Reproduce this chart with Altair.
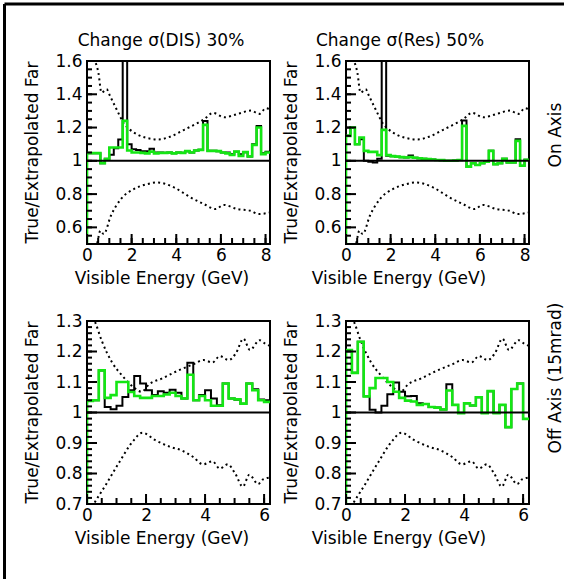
import altair as alt
import numpy as np
import pandas as pd

FONT = "DejaVu Sans"
GREEN = "#14e614"
W = H = 183
BIN = 0.2

# ---- top row: 0-8.2 GeV, ratio 0.5-1.6 ----
TOP_XMAX = 8.2
TOP_YDOM = [0.5, 1.6]
DIS_BLACK = [1.046, 1.046, 1.046, 0.986, 1.012, 1.036, 1.076, 1.128, 2.0, 1.10,
             1.07, 1.065, 1.058, 1.058, 1.072, 1.05, 1.05, 1.048, 1.05, 1.045,
             1.05, 1.048, 1.058, 1.05, 1.062, 1.066, 1.24, 1.06, 1.06, 1.058,
             1.05, 1.05, 1.04, 1.055, 1.04, 1.052, 1.026, 1.10, 1.21, 1.045, 1.055]
DIS_GREEN = [1.046, 1.046, 1.046, 0.986, 1.01, 1.08, 1.08, 1.08, 1.24, 1.062,
             1.05, 1.05, 1.048, 1.045, 1.055, 1.045, 1.048, 1.048, 1.05, 1.045,
             1.05, 1.048, 1.058, 1.05, 1.062, 1.066, 1.216, 1.06, 1.06, 1.058,
             1.05, 1.045, 1.035, 1.055, 1.03, 1.052, 1.026, 1.096, 1.20, 1.04, 1.05]
RES_BLACK = [1.15, 1.2, 1.1, 1.13, 1.0, 0.995, 0.99, 1.012, 2.0, 1.03,
             1.028, 1.025, 1.022, 1.02, 1.032, 1.018, 1.015, 1.012, 1.01, 1.008,
             1.005, 1.004, 1.0, 1.0, 1.002, 1.005, 1.242, 0.965, 0.985, 0.975,
             0.985, 0.995, 1.06, 0.98, 0.985, 1.012, 0.99, 0.99, 1.13, 0.97, 1.006]
RES_GREEN = [1.15, 1.2, 1.1, 1.14, 1.06, 1.054, 1.054, 1.034, 1.186, 1.034,
             1.028, 1.025, 1.022, 1.02, 1.022, 1.018, 1.015, 1.012, 1.01, 1.008,
             1.005, 1.004, 1.0, 1.0, 1.002, 1.005, 1.21, 0.965, 0.985, 0.975,
             0.985, 0.995, 1.06, 0.98, 0.985, 1.012, 0.99, 0.99, 1.12, 0.97, 1.006]
TOP_UP_E = [0.0, 0.2, 0.36, 0.51, 0.65, 0.88, 1.03, 1.25, 1.47, 1.62, 1.85, 2.29,
            2.89, 3.18, 3.78, 4.37, 4.97, 5.27, 5.64, 6.16, 6.76, 7.35, 7.72, 8.02, 8.2]
TOP_UP_R = [1.70, 1.64, 1.60, 1.53, 1.41, 1.43, 1.39, 1.33, 1.27, 1.23, 1.196, 1.156,
            1.132, 1.128, 1.148, 1.188, 1.228, 1.252, 1.288, 1.262, 1.282, 1.302, 1.282, 1.316, 1.308]
TOP_LO_E = [0.0, 0.45, 0.6, 0.75, 1.07, 1.52, 2.1, 2.7, 3.15, 3.9, 4.64, 5.24,
            5.76, 6.13, 6.73, 7.32, 7.69, 8.2]
TOP_LO_R = [0.40, 0.50, 0.58, 0.56, 0.67, 0.77, 0.83, 0.86, 0.87, 0.84, 0.78, 0.74,
            0.71, 0.735, 0.71, 0.70, 0.68, 0.69]

# ---- bottom row: 0-6.2 GeV, ratio 0.7-1.3 ----
BOT_XMAX = 6.2
BOT_YDOM = [0.7, 1.3]
OFF_DIS_BLACK = [1.038, 1.040, 1.138, 1.018, 1.011, 1.022, 1.051, 1.073, 1.120, 1.095,
                 1.073, 1.057, 1.070, 1.065, 1.075, 1.065, 1.046, 1.163, 1.040, 1.057,
                 1.073, 1.046, 1.024, 1.095, 1.046, 1.042, 1.029, 1.095, 1.076, 1.043, 1.040]
OFF_DIS_GREEN = [1.038, 1.040, 1.138, 1.048, 1.057, 1.100, 1.100, 1.067, 1.054, 1.048,
                 1.048, 1.054, 1.054, 1.059, 1.065, 1.054, 1.046, 1.124, 1.040, 1.054,
                 1.040, 1.022, 1.022, 1.095, 1.046, 1.043, 1.029, 1.095, 1.073, 1.040, 1.035]
OFF_RES_BLACK = [1.205, 1.13, 1.232, 1.053, 1.009, 1.0, 1.022, 1.06, 1.098, 1.068,
                 1.053, 1.054, 1.03, 1.028, 1.018, 1.016, 1.01, 1.093, 1.025, 0.998,
                 1.03, 1.023, 1.05, 0.998, 1.07, 0.998, 1.025, 0.952, 1.077, 1.095, 0.979]
OFF_RES_GREEN = [1.205, 1.13, 1.232, 1.053, 1.08, 1.113, 1.113, 1.10, 1.068, 1.048,
                 1.039, 1.036, 1.025, 1.028, 1.018, 1.016, 1.01, 1.072, 1.025, 0.998,
                 1.03, 1.023, 1.05, 0.998, 1.07, 0.998, 1.025, 0.952, 1.077, 1.095, 0.979]
BOT_UP_E = [0.0, 0.28, 0.5, 0.85, 1.2, 1.55, 1.85, 2.1, 2.55, 3.1, 3.6, 3.95, 4.25,
            4.5, 4.8, 5.05, 5.3, 5.52, 5.85, 6.05, 6.2]
BOT_UP_R = [1.34, 1.295, 1.235, 1.164, 1.12, 1.085, 1.068, 1.092, 1.112, 1.138, 1.158,
            1.172, 1.164, 1.185, 1.172, 1.195, 1.242, 1.205, 1.237, 1.225, 1.218]
BOT_LO_E = [0.0, 0.28, 0.65, 1.1, 1.55, 1.88, 2.3, 2.8, 3.2, 3.6, 3.93, 4.25, 4.5,
            4.77, 5.02, 5.28, 5.5, 5.8, 5.95, 6.2]
BOT_LO_R = [0.66, 0.708, 0.765, 0.838, 0.905, 0.934, 0.91, 0.888, 0.876, 0.854, 0.83,
            0.84, 0.816, 0.83, 0.80, 0.757, 0.796, 0.765, 0.78, 0.787]

REF = 1.0
Y_TITLE = "True/Extrapolated Far"
X_TITLE = "Visible Energy (GeV)"
TOP_YMAJOR = [0.6, 0.8, 1.0, 1.2, 1.4, 1.6]
BOT_YMAJOR = [0.7, 0.8, 0.9, 1.0, 1.1, 1.2, 1.3]


def step_table(vals, xmax, ymin):
    n = int(round(xmax / BIN))
    assert n == len(vals)
    edges = [round(i * BIN, 3) for i in range(n + 1)]
    xs, ys = [0.0], [ymin]
    for i, v in enumerate(vals):
        xs += [edges[i], edges[i + 1]]
        ys += [v, v]
    return pd.DataFrame({"E": xs, "R": ys, "i": range(len(xs))})


def text(s, x, y, angle=0, size=17):
    return alt.Chart(pd.DataFrame({"s": [s]})).mark_text(
        font=FONT, fontSize=size, color="black", angle=angle,
        align="center", baseline="middle").encode(
        x=alt.value(x), y=alt.value(y), text="s:N")


def panel(black, green, up_e, up_r, lo_e, lo_r, xmax, ydom, ymajor, ymin_step, extras):
    xs = alt.Scale(domain=[0, xmax], nice=False, zero=False)
    ys = alt.Scale(domain=ydom, nice=False, zero=False)
    xmajor = [float(v) for v in np.arange(0, xmax + 1e-9, 2)]
    xminor = [float(v) for v in np.arange(0, xmax + 1e-9, 0.5)]
    yminor = [round(float(v), 3) for v in np.arange(ydom[0], ydom[1] + 1e-9, ymin_step)]
    xax = alt.Axis(values=xmajor, format="~g", labelFlush=False, labelPadding=3,
                   labelOverlap=False, title=None)
    yax = alt.Axis(values=ymajor, format="~g", labelPadding=5, labelOverlap=False, title=None)
    X = lambda f: alt.X(f, scale=xs, axis=xax)
    Y = lambda f: alt.Y(f, scale=ys, axis=yax)

    def env(e, r):
        return alt.Chart(pd.DataFrame({"E": e, "R": r})).mark_line(
            color="black", strokeWidth=2, strokeDash=[2, 3.2], clip=True,
            interpolate="monotone").encode(x=X("E:Q"), y=Y("R:Q"))

    def hist(vals, color, sw):
        return alt.Chart(step_table(vals, xmax, ydom[0] - 0.05)).mark_line(
            color=color, strokeWidth=sw, clip=True, strokeJoin="miter").encode(
            x=X("E:Q"), y=Y("R:Q"), order="i:Q")

    ref = alt.Chart(pd.DataFrame({"R": [REF]})).mark_rule(
        color="black", strokeWidth=2).encode(y=Y("R:Q"))

    def yticks(vals, length):
        return alt.Chart(pd.DataFrame({"t": vals})).mark_rule(
            color="black", strokeWidth=2).encode(
            y=Y("t:Q"), x=alt.value(0), x2=alt.value(length))

    def xticks(vals, length):
        return alt.Chart(pd.DataFrame({"t": vals})).mark_rule(
            color="black", strokeWidth=2).encode(
            x=X("t:Q"), y=alt.value(H), y2=alt.value(H - length))

    layers = [env(up_e, up_r), env(lo_e, lo_r), hist(black, "black", 2),
              hist(green, GREEN, 2.6), ref,
              yticks(yminor, 5), yticks(ymajor, 10),
              xticks(xminor, 6), xticks(xmajor, 10)] + extras
    return alt.layer(*layers).properties(width=W, height=H)


def frame_lines():
    # page border along the left and top edges, positioned from the first panel
    one = pd.DataFrame({"k": [0]})
    v = alt.Chart(one).mark_rule(color="black", strokeWidth=3, strokeCap="butt").encode(
        x=alt.value(-82.5), y=alt.value(-57), y2=alt.value(518))
    h = alt.Chart(one).mark_rule(color="black", strokeWidth=3, strokeCap="butt").encode(
        x=alt.value(-82.5), x2=alt.value(477), y=alt.value(-57))
    return [v, h]


tl = panel(DIS_BLACK, DIS_GREEN, TOP_UP_E, TOP_UP_R, TOP_LO_E, TOP_LO_R,
           TOP_XMAX, TOP_YDOM, TOP_YMAJOR, 0.05,
           frame_lines() + [text("Change σ(DIS) 30%", 74, -20),
                            text(X_TITLE, 75, 218),
                            text(Y_TITLE, -54, 91.5, angle=270)])
tr = panel(RES_BLACK, RES_GREEN, TOP_UP_E, TOP_UP_R, TOP_LO_E, TOP_LO_R,
           TOP_XMAX, TOP_YDOM, TOP_YMAJOR, 0.05,
           [text("Change σ(Res) 50%", 54, -20),
            text(X_TITLE, 53, 218),
            text(Y_TITLE, -54, 91.5, angle=270),
            text("On Axis", 210, 74, angle=270)])
bl = panel(OFF_DIS_BLACK, OFF_DIS_GREEN, BOT_UP_E, BOT_UP_R, BOT_LO_E, BOT_LO_R,
           BOT_XMAX, BOT_YDOM, BOT_YMAJOR, 0.02,
           [text(X_TITLE, 75, 218),
            text(Y_TITLE, -54, 91.5, angle=270)])
br = panel(OFF_RES_BLACK, OFF_RES_GREEN, BOT_UP_E, BOT_UP_R, BOT_LO_E, BOT_LO_R,
           BOT_XMAX, BOT_YDOM, BOT_YMAJOR, 0.02,
           [text(X_TITLE, 53, 218),
            text(Y_TITLE, -54, 91.5, angle=270),
            text("Off Axis (15mrad)", 210, 57, angle=270)])

chart = alt.concat(tl, tr, bl, br, columns=2, spacing={"row": 77, "column": 76},
                   bounds="flush").properties(
    padding={"left": 2, "top": 1, "right": 0, "bottom": 0}
).configure(background="white").configure_view(
    stroke="black", strokeWidth=2
).configure_axis(
    labelFont=FONT, labelFontSize=17, labelColor="black",
    ticks=False, domain=False, grid=False
)

chart.save("out.html", embed_options={"renderer": "svg", "actions": False})
